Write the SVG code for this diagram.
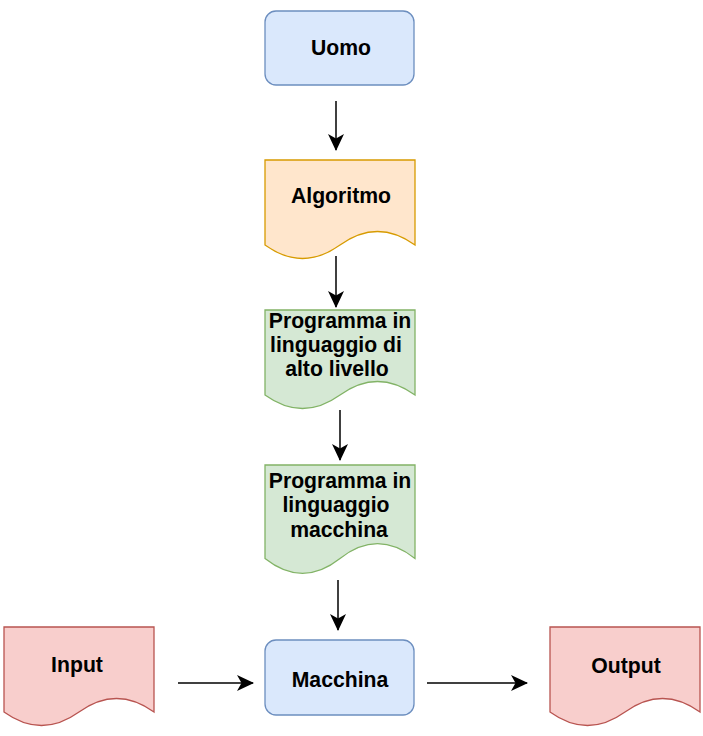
<svg xmlns="http://www.w3.org/2000/svg" width="703" height="736" viewBox="0 0 703 736">
<style>
text{font-family:"Liberation Sans",Arial,Helvetica,sans-serif;font-weight:bold;font-size:21.2px;fill:#000;text-anchor:middle}
.blue{fill:#dae8fc;stroke:#6c8ebf;stroke-width:1.3}
.orange{fill:#ffe6cc;stroke:#d79b00;stroke-width:1.3}
.green{fill:#d5e8d4;stroke:#82b366;stroke-width:1.3}
.red{fill:#f8cecc;stroke:#b85450;stroke-width:1.3}
.edge{stroke:#000;stroke-width:1.5;fill:none;marker-end:url(#arr)}
</style>
<defs>
<marker id="arr" markerUnits="userSpaceOnUse" viewBox="0 0 17 16" refX="16" refY="8" markerWidth="17" markerHeight="16" orient="auto">
<path d="M0,0 L17,8 L0,16 L4.5,8 Z" fill="#000"/>
</marker>
</defs>
<g id="connectors">
<line class="edge" x1="336" y1="101" x2="336" y2="150"/>
<line class="edge" x1="336" y1="256" x2="336" y2="307"/>
<line class="edge" x1="340" y1="410" x2="340" y2="460"/>
<line class="edge" x1="338" y1="580" x2="338" y2="630"/>
<line class="edge" x1="178" y1="683" x2="253" y2="683"/>
<line class="edge" x1="427" y1="683" x2="527" y2="683"/>
</g>
<g id="uomo">
<rect class="blue" x="265" y="11" width="149" height="74" rx="11"/>
<text x="341" y="55">Uomo</text>
</g>
<g id="algoritmo">
<path class="orange" d="M265,160 H415 V245 Q377.5,218 340,245 Q302.5,272 265,245 Z"/>
<text x="341" y="203">Algoritmo</text>
</g>
<g id="alto-livello">
<path class="green" d="M265,310 H415 V395 Q377.5,368 340,395 Q302.5,422 265,395 Z"/>
<text x="340" y="328">Programma in</text>
<text x="336" y="352">linguaggio di</text>
<text x="337" y="376">alto livello</text>
</g>
<g id="macchina-lang">
<path class="green" d="M265,465 H415 V558.5 Q377.5,528.8 340,558.5 Q302.5,588.2 265,558.5 Z"/>
<text x="340" y="488">Programma in</text>
<text x="336" y="512">linguaggio</text>
<text x="339" y="537">macchina</text>
</g>
<g id="macchina">
<rect class="blue" x="265" y="640" width="149" height="75" rx="11"/>
<text x="340" y="687">Macchina</text>
</g>
<g id="input">
<path class="red" d="M4,627 H154 V712 Q116.5,685 79,712 Q41.5,739 4,712 Z"/>
<text x="77" y="672">Input</text>
</g>
<g id="output">
<path class="red" d="M550,627 H700 V712 Q662.5,685 625,712 Q587.5,739 550,712 Z"/>
<text x="626" y="673">Output</text>
</g>
</svg>
